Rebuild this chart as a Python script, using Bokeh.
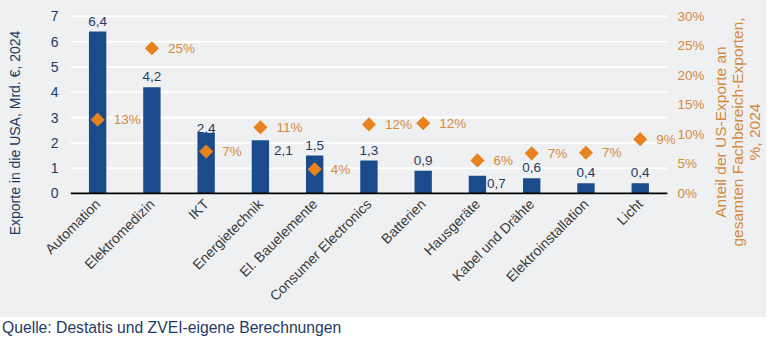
from bokeh.plotting import figure
from bokeh.models import (ColumnDataSource, Range1d, LinearAxis, FixedTicker,
                          PrintfTickFormatter, LabelSet, Div)
from bokeh.core.properties import value
from bokeh.layouts import column, row
from bokeh.embed import file_html
from bokeh.resources import INLINE
import math

categories = ["Automation", "Elektromedizin", "IKT", "Energietechnik", "El. Bauelemente",
              "Consumer Electronics", "Batterien", "Hausgeräte", "Kabel und Drähte",
              "Elektroinstallation", "Licht"]
exports = [6.4, 4.2, 2.4, 2.1, 1.5, 1.3, 0.9, 0.7, 0.6, 0.4, 0.4]
share = [12.5, 24.6, 7.1, 11.2, 4.1, 11.7, 11.9, 5.6, 6.8, 6.9, 9.2]
share_labels = ["13%", "25%", "7%", "11%", "4%", "12%", "12%", "6%", "7%", "7%", "9%"]
left_ticks = [0, 1, 2, 3, 4, 5, 6, 7]
right_ticks = [0, 5, 10, 15, 20, 25, 30]
left_title = "Exporte in die USA, Mrd. €, 2024"
right_title = ["Anteil der US-Exporte an", "gesamten Fachbereich-Exporten,", "%, 2024"]
source_note = "Quelle: Destatis und ZVEI-eigene Berechnungen"

# label placement (styling only)
bar_lbl_dx = [0, 0, 0, 23, 0, 0, 0, 19, 0, 0, 0]
bar_lbl_dy = [6, 6, 0, -10, 6, 6, 6, -8, 6, 6, 6]
bar_lbl_base = ["bottom", "bottom", "bottom", "middle", "bottom", "bottom", "bottom",
                "middle", "bottom", "bottom", "bottom"]

BG = "#eef0f1"
NAVY = "#1c4b8c"
DARK = "#1f3b63"
ORANGE = "#e7821f"
ORTXT = "#d48a3f"
FONT = "Liberation Sans"
H = 315

xs = list(range(len(categories)))
Y0, Y1 = -0.04, 7.39              # headroom; 0..7 is the visible scale
P0, P1 = Y0 * 30 / 7, Y1 * 30 / 7  # right axis aligned: 7 <-> 30 %

src = ColumnDataSource(dict(
    x=xs, exp=exports, share=share, slab=share_labels,
    elab=[f"{v:.1f}".replace(".", ",") for v in exports],
))

# ---- main chart ----
p = figure(x_range=Range1d(xs[0] - 0.5, xs[-1] + 0.65), y_range=Range1d(Y0, Y1),
           width=669, height=H, output_backend="svg", toolbar_location=None,
           min_border_left=29, min_border_right=35, min_border_top=4, min_border_bottom=123)
p.margin = (2, 0, 0, 0)
p.background_fill_color = BG
p.border_fill_color = BG
p.outline_line_color = None
p.extra_y_ranges = {"pct": Range1d(P0, P1)}
p.xgrid.grid_line_color = None
p.ygrid.grid_line_color = None

n = len(left_ticks)
p.segment(x0=[xs[0] - 0.5] * n, x1=[xs[-1] + 0.5] * n, y0=left_ticks, y1=left_ticks,
          line_color="white", line_width=2)

p.vbar(x="x", top="exp", width=0.32, source=src, fill_color=NAVY, line_color=None)

p.segment(x0=[xs[0] - 0.5], x1=[xs[-1] + 0.5], y0=[0], y1=[0], line_color="black",
          line_width=2)

p.scatter(x="x", y="share", y_range_name="pct", source=src, marker="square", size=10,
          angle=math.pi / 4, fill_color=ORANGE, line_color=None)

for i in xs:
    s = ColumnDataSource(dict(x=[xs[i]], y=[exports[i]], t=[src.data["elab"][i]]))
    p.add_layout(LabelSet(x="x", y="y", text="t", source=s, x_offset=bar_lbl_dx[i],
                          y_offset=bar_lbl_dy[i],
                          text_align="center", text_baseline=bar_lbl_base[i],
                          text_font=value(FONT), text_font_size="13.5px", text_color=DARK))

p.add_layout(LabelSet(x="x", y="share", y_range_name="pct", text="slab", source=src,
                      x_offset=16, text_align="left", text_baseline="middle",
                      text_font=value(FONT), text_font_size="13.5px", text_color=ORTXT))

ax = p.yaxis[0]
ax.ticker = FixedTicker(ticks=left_ticks)
ax.axis_line_color = None
ax.major_tick_line_color = None
ax.minor_tick_line_color = None
ax.major_tick_out = 0
ax.major_tick_in = 0
ax.major_label_standoff = 12
ax.major_label_text_font = FONT
ax.major_label_text_font_size = "14px"
ax.major_label_text_color = DARK

rax = LinearAxis(y_range_name="pct", ticker=FixedTicker(ticks=right_ticks),
                 formatter=PrintfTickFormatter(format="%d%%"))
rax.axis_line_color = None
rax.major_tick_line_color = None
rax.minor_tick_line_color = None
rax.major_tick_out = 0
rax.major_tick_in = 0
rax.major_label_standoff = 2
rax.major_label_text_font = FONT
rax.major_label_text_font_size = "13.5px"
rax.major_label_text_color = ORTXT
p.add_layout(rax, "right")

xa = p.xaxis[0]
xa.ticker = FixedTicker(ticks=xs)
xa.major_label_overrides = {x: c for x, c in zip(xs, categories)}
xa.axis_line_color = None
xa.major_tick_line_color = None
xa.minor_tick_line_color = None
xa.major_tick_out = 0
xa.major_tick_in = 0
xa.major_label_orientation = math.pi / 4
xa.major_label_standoff = 7
xa.major_label_text_font = FONT
xa.major_label_text_font_size = "14px"
xa.major_label_text_color = "#3a3a3a"


# ---- axis titles as rotated HTML text (reads bottom to top) ----
def title_strip(width, cx, cy, html, size, color, margin):
    inner = (f'<div style="position:relative;width:{width}px;height:{H}px;">'
             f'<div style="position:absolute;left:{cx}px;top:{cy}px;'
             f'transform:translate(-50%,-50%) rotate(-90deg);white-space:nowrap;'
             f'text-align:center;line-height:17px;font-family:\'{FONT}\';'
             f'font-size:{size};color:{color};">{html}</div></div>')
    return Div(text=inner, width=width, height=H, margin=margin,
               styles={"background-color": BG, "overflow": "hidden"})


lf = title_strip(40, 14, 130.5, left_title, "14px", DARK, (2, 0, 0, 1))
rf = title_strip(56, 27, 130, "<br>".join(right_title), "15.5px", ORTXT, (2, 0, 0, 0))

div = Div(text=source_note, width=768, height=22, margin=(0, 0, 0, 0),
          styles={"font-family": FONT, "font-size": "15.7px", "color": DARK,
                  "line-height": "22px", "padding-left": "2px", "white-space": "nowrap"})

top = row(lf, p, rf, spacing=0, styles={"background-color": BG})
layout = column(top, div, spacing=0)
open("out.html", "w").write(file_html(layout, INLINE))
